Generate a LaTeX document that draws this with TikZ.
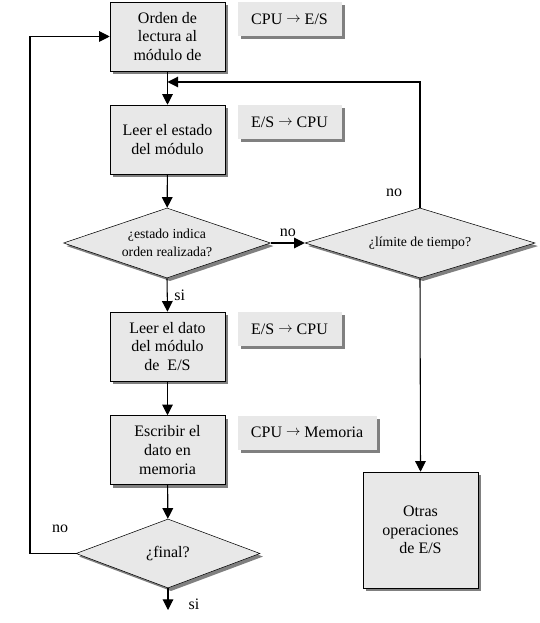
\documentclass[tikz,border=0pt]{standalone}
\usepackage{fontspec}
\setmainfont{Liberation Serif}
\usetikzlibrary{arrows.meta,positioning,shapes.geometric,shadows}
\definecolor{boxgray}{RGB}{232,232,232}
\definecolor{shadegray}{RGB}{128,128,128}
\newcommand{\toarr}{\raisebox{1.5pt}{\scalebox{0.9}{$\rightarrow$}}}
\tikzset{
  shade/.style={drop shadow={shadow xshift=2.3pt,shadow yshift=-2.3pt,fill=shadegray,opacity=1}},
  proc/.style={draw,rectangle,fill=boxgray,shade,minimum width=86.25pt,minimum height=51.75pt,
    align=center,inner sep=2pt,font=\fontsize{12}{13.9}\selectfont},
  xfer/.style={rectangle,fill=boxgray,shade,minimum width=78pt,minimum height=25.5pt,
    inner sep=2pt,font=\fontsize{12}{14}\selectfont},
  test/.style={draw,diamond,aspect=3,fill=boxgray,shade,inner sep=0pt,align=center,
    font=\fontsize{10.3}{13.5}\selectfont},
  lbl/.style={font=\fontsize{12}{14}\selectfont,inner sep=1pt},
  flow/.style={-{Triangle[length=8pt,width=8pt]},line width=0.8pt},
  connect/.style={line width=0.8pt}
}

\begin{document}
\begin{tikzpicture}[x=0.75pt,y=-0.75pt]
\useasboundingbox (0,0) rectangle (539,623);

% main column
\node[proc] (b1) at (167.5,36.5) {Orden de\\lectura al\\módulo de};
\node[proc] (b2) at (167.5,139.5) {Leer el estado\\del módulo};
\node[test,minimum width=155.25pt,minimum height=52.5pt] (d1) at (167,243) {¿estado indica\\orden realizada?};
\node[proc] (b3) at (167.5,346.5) {Leer el dato\\del módulo\\de~~E/S};
\node[proc] (b4) at (167.5,450) {Escribir el\\dato en\\memoria};
\node[test,minimum width=138pt,minimum height=51.75pt,font=\fontsize{12}{14}\selectfont] (d3) at (168,553.5) {¿final?};

% right branch
\node[test,minimum width=172.5pt,minimum height=52.5pt] (d2) at (420,243) {¿límite de tiempo?};
\node[proc,minimum height=87pt] (other) at (420.5,530) {Otras\\operaciones\\de E/S};

% transfer notes
\node[xfer,below right=0pt and 9pt of b1.north east] (t1) {CPU \toarr{} E/S};
\node[xfer,below right=0pt and 9pt of b2.north east] (t2) {E/S \toarr{} CPU};
\node[xfer,below right=0pt and 9pt of b3.north east] (t3) {E/S \toarr{} CPU};
\node[xfer,below right=0pt and 9pt of b4.north east,minimum width=104.25pt] (t4) {CPU \toarr{} Memoria};

\coordinate (join) at (167.5,82);
\coordinate (back) at (30,0);
\coordinate (out) at (168,610);

\draw[flow] (b1) -- (b2);
\draw[flow] (b2) -- (d1);
\draw[flow] (d1.south) -- node[lbl,right=4pt] {si} (b3.north);
\draw[flow] (b3) -- (b4);
\draw[flow] (b4) -- (d3);
\draw[flow] (d3.south) -- node[lbl,right=14pt,pos=0.75] {si} (out);
\draw[flow] (d3.west) -| node[lbl,pos=0.17,above=14pt] {no} (back |- b1.west) -- (b1.west);
\draw[flow] (d1.east) -- node[lbl,above=3pt] {no} (d2.west);
\draw[flow] (d2.north) |- node[lbl,pos=0.06,left=12pt] {no} (join);
\draw[flow] (d2.south) -- (other.north);

\end{tikzpicture}
\end{document}
